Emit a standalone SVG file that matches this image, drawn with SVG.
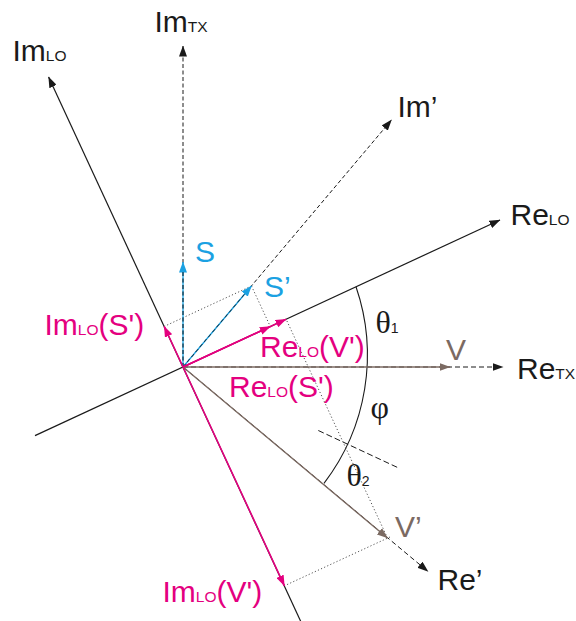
<svg xmlns="http://www.w3.org/2000/svg" width="576" height="621" viewBox="0 0 576 621">
<style>
.ax{stroke:#1a1a1a;stroke-width:1.2;fill:none}
.dash{stroke:#1a1a1a;stroke-width:1;fill:none;stroke-dasharray:4 2.5}
.dot{stroke:#555;stroke-width:1;fill:none;stroke-dasharray:1.2 2.2}
.mg{stroke:#e4007f;stroke-width:1.6;fill:none}
.bl{stroke:#1ba1e2;stroke-width:1.3;fill:none}
.br{stroke:#7b6a62;stroke-width:1.4;fill:none}
text{font-family:"Liberation Sans",Arial,sans-serif;font-size:30px;fill:#1a1a1a}
.sub{font-size:15.5px}
.gk{font-family:"Liberation Serif","Times New Roman",serif;font-size:32px}
.gs{font-family:"Liberation Sans",Arial,sans-serif;font-size:14px}
.tm{fill:#e4007f}
.tb{fill:#1ba1e2}
.tr{fill:#7b6a62}
</style>
<defs>
<marker id="ak" markerWidth="11" markerHeight="8" refX="10.5" refY="4" orient="auto" markerUnits="userSpaceOnUse"><path d="M0,0 L11,4 L0,8 z" fill="#1a1a1a"/></marker>
<marker id="am" markerWidth="11" markerHeight="8" refX="10.5" refY="4" orient="auto" markerUnits="userSpaceOnUse"><path d="M0,0 L11,4 L0,8 z" fill="#e4007f"/></marker>
<marker id="ab" markerWidth="11" markerHeight="8" refX="10.5" refY="4" orient="auto" markerUnits="userSpaceOnUse"><path d="M0,0 L11,4 L0,8 z" fill="#1ba1e2"/></marker>
<marker id="ar" markerWidth="11" markerHeight="8" refX="10.5" refY="4" orient="auto" markerUnits="userSpaceOnUse"><path d="M0,0 L11,4 L0,8 z" fill="#7b6a62"/></marker>
</defs>

<g id="connectors">
  <line class="ax" x1="35" y1="435.6" x2="500" y2="220" marker-end="url(#ak)"/>
  <line class="ax" x1="301" y1="622" x2="48.6" y2="77" marker-end="url(#ak)"/>
  <line class="dash" x1="183" y1="367" x2="183" y2="46" marker-end="url(#ak)"/>
  <line class="dash" x1="183" y1="367" x2="503" y2="367" style="stroke-dasharray:5 3" marker-end="url(#ak)"/>
  <line class="dash" x1="183" y1="367" x2="391.5" y2="120" marker-end="url(#ak)"/>
  <line class="dash" x1="183" y1="367" x2="428" y2="571.5" style="stroke-dasharray:5 3" marker-end="url(#ak)"/>
  <path class="ax" style="stroke-width:1.1" d="M356,286.7 A211,211 0 0 1 324,483.3"/>
  <line class="dash" x1="318.3" y1="430.5" x2="399.5" y2="468.4" style="stroke-dasharray:6 3"/>
  <line class="dot" x1="251.5" y1="286" x2="164.2" y2="326.4"/>
  <line class="dot" x1="251.5" y1="286" x2="270.3" y2="326.5"/>
  <line class="dot" x1="387.5" y1="538" x2="286.1" y2="319.2"/>
  <line class="dot" x1="390" y1="537" x2="284.4" y2="585.8"/>
  <line class="br" x1="183" y1="367" x2="450" y2="367" marker-end="url(#ar)"/>
  <line class="br" x1="183" y1="367" x2="387.5" y2="538" marker-end="url(#ar)"/>
  <line class="bl" x1="183" y1="367" x2="183" y2="262" marker-end="url(#ab)"/>
  <line class="bl" x1="183" y1="367" x2="251.5" y2="286" marker-end="url(#ab)"/>
  <line class="dash" style="stroke-width:0.8" x1="183" y1="367" x2="183" y2="272"/>
  <line class="dash" style="stroke-width:0.8" x1="183" y1="367" x2="245" y2="293.7"/>
  <line class="mg" x1="183" y1="367" x2="164.2" y2="326.4" marker-end="url(#am)"/>
  <line class="mg" x1="183" y1="367" x2="270.3" y2="326.5" marker-end="url(#am)"/>
  <line class="mg" x1="183" y1="367" x2="286.1" y2="319.2" marker-end="url(#am)"/>
  <line class="mg" x1="183" y1="367" x2="284.4" y2="585.8" marker-end="url(#am)"/>
</g>

<g id="label-ImLO"><text x="12.5" y="61">Im<tspan class="sub">LO</tspan></text></g>
<g id="label-ImTX"><text x="154.5" y="32">Im<tspan class="sub">TX</tspan></text></g>
<g id="label-ImPrime"><text x="397.5" y="117">Im’</text></g>
<g id="label-ReLO"><text x="510.5" y="225">Re<tspan class="sub">LO</tspan></text></g>
<g id="label-ReTX"><text x="517" y="379">Re<tspan class="sub">TX</tspan></text></g>
<g id="label-RePrime"><text x="437.5" y="590">Re’</text></g>
<g id="label-S"><text class="tb" x="195" y="262">S</text></g>
<g id="label-SPrime"><text class="tb" x="264" y="297">S’</text></g>
<g id="label-V"><text class="tr" x="446" y="360">V</text></g>
<g id="label-VPrime"><text class="tr" x="395" y="537">V’</text></g>
<g id="label-ImLO-S"><text class="tm" x="44.5" y="335">Im<tspan class="sub">LO</tspan>(S')</text></g>
<g id="label-ReLO-V"><text class="tm" x="260" y="357">Re<tspan class="sub">LO</tspan>(V')</text></g>
<g id="label-ReLO-S"><text class="tm" x="229" y="397">Re<tspan class="sub">LO</tspan>(S')</text></g>
<g id="label-ImLO-V"><text class="tm" x="162.5" y="602">Im<tspan class="sub">LO</tspan>(V')</text></g>
<g id="label-theta1"><text class="gk" x="375.5" y="333">θ<tspan class="gs">1</tspan></text></g>
<g id="label-phi"><text class="gk" x="370.5" y="418">φ</text></g>
<g id="label-theta2"><text class="gk" x="346.5" y="486">θ<tspan class="gs">2</tspan></text></g>
</svg>
